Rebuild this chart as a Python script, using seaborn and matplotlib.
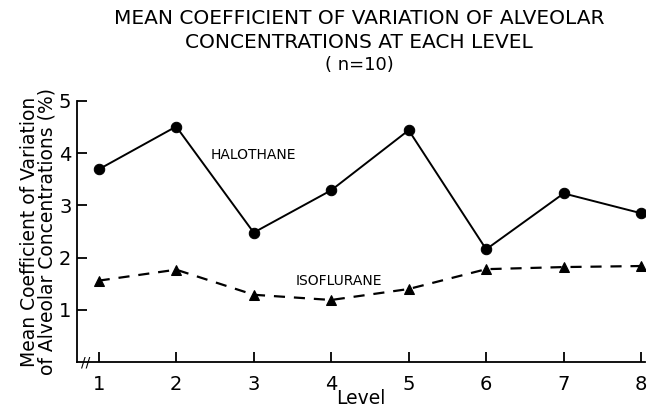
import pandas as pd
import matplotlib.pyplot as plt
import seaborn as sns

# 자료
levels = [1, 2, 3, 4, 5, 6, 7, 8]
halothane = [3.69, 4.51, 2.48, 3.29, 4.44, 2.16, 3.23, 2.85]
isoflurane = [1.56, 1.77, 1.29, 1.19, 1.40, 1.78, 1.82, 1.84]

df = pd.DataFrame({'Level': levels, 'Halothane': halothane, 'Isoflurane': isoflurane})

sns.set_style('ticks')
plt.rcParams['font.family'] = ['DejaVu Sans']
plt.rcParams.update({'text.color': 'black', 'axes.labelcolor': 'black',
                     'xtick.color': 'black', 'ytick.color': 'black',
                     'axes.edgecolor': 'black'})

fig = plt.figure(figsize=(6.47, 4.12), dpi=100)
ax = fig.add_axes([0.119, 0.121, 0.878, 0.634])

sns.lineplot(data=df, x='Level', y='Halothane', ax=ax, color='black',
             linewidth=1.4, marker='o', markersize=7.5, markerfacecolor='black',
             markeredgecolor='black')
sns.lineplot(data=df, x='Level', y='Isoflurane', ax=ax, color='black',
             linewidth=1.6, linestyle=(0, (5, 4)), marker='^', markersize=7.5,
             markerfacecolor='black', markeredgecolor='black')

ax.set_xlim(0.72, 8.05)
ax.set_ylim(0, 5)
ax.set_xticks(levels)
ax.set_yticks([1, 2, 3, 4, 5])
ax.tick_params(direction='in', length=7, width=1.3, labelsize=14)
ax.tick_params(axis='x', pad=9)
ax.tick_params(axis='y', pad=4)
sns.despine(ax=ax)
for s in ['left', 'bottom']:
    ax.spines[s].set_linewidth(1.3)

ax.set_xlabel('Level', fontsize=13.5, labelpad=-3)
ax.set_ylabel('Mean Coefficient of Variation\nof Alveolar Concentrations (%)',
              fontsize=13.5, linespacing=0.9, labelpad=2)

ax.text(3.0, 3.96, 'HALOTHANE', fontsize=10, ha='center', va='center')
ax.text(4.1, 1.55, 'ISOFLURANE', fontsize=10, ha='center', va='center')

# 축 끊김 표시
ax.text(0.015, 0.0, '//', transform=ax.transAxes, fontsize=10,
        ha='center', va='center')

fig.text(0.555, 0.955, 'MEAN COEFFICIENT OF VARIATION OF ALVEOLAR',
         fontsize=14.5, ha='center', va='center')
fig.text(0.555, 0.898, 'CONCENTRATIONS AT EACH LEVEL',
         fontsize=14.5, ha='center', va='center')
fig.text(0.555, 0.842, '( n=10)', fontsize=13, ha='center', va='center')

fig.savefig('out.png', dpi=100)
